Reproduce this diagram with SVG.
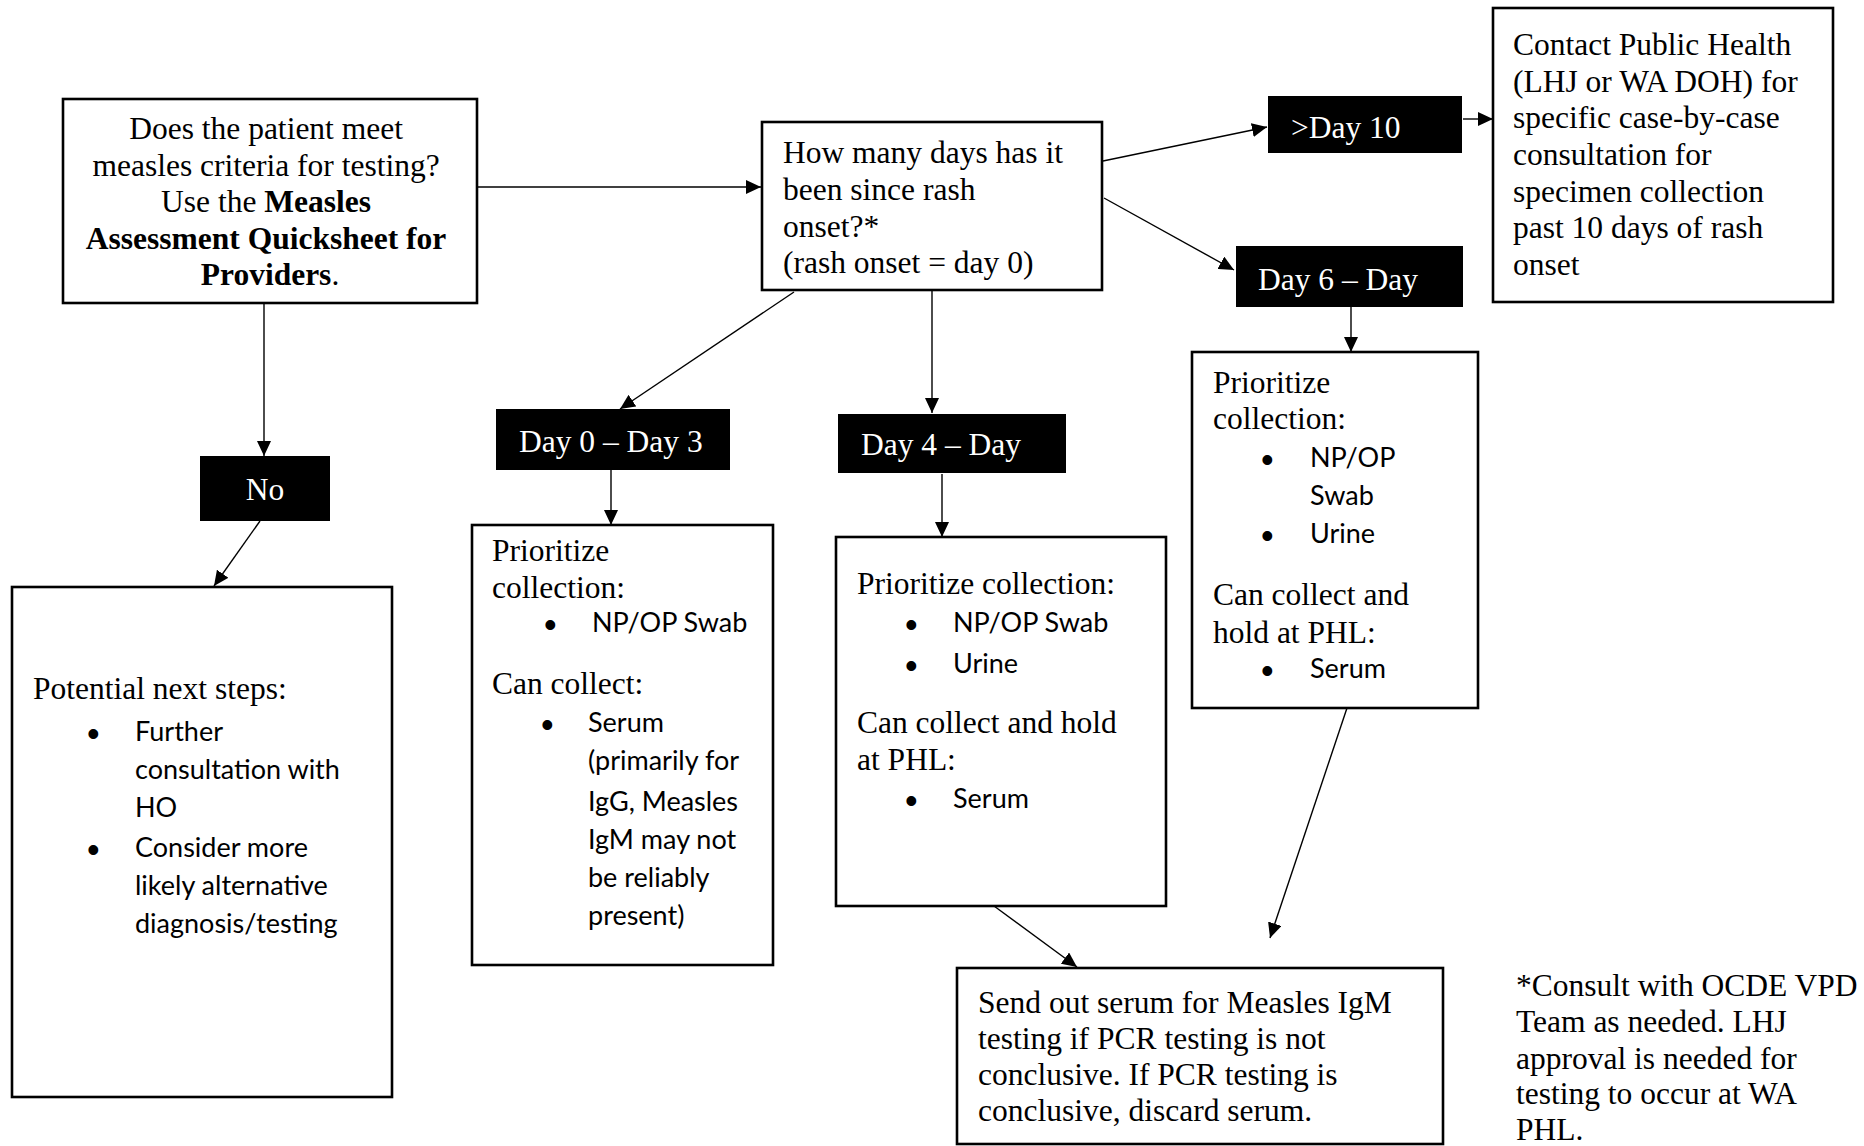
<svg xmlns="http://www.w3.org/2000/svg" width="1864" height="1146" viewBox="0 0 1864 1146">
<defs>
<marker id="arr" markerUnits="userSpaceOnUse" markerWidth="16" markerHeight="14" refX="15" refY="7" orient="auto">
<path d="M0,0 L15,7 L0,14 z" fill="#000"/>
</marker>
<style>
.box{fill:#fff;stroke:#000;stroke-width:2.6}
.lab{fill:#000;stroke:none}
.t{font-family:"Liberation Serif","Times New Roman",serif;font-size:31.5px;fill:#000}
.w{font-family:"Liberation Serif","Times New Roman",serif;font-size:31.5px;fill:#fff}
.s{font-family:Lato,"Open Sans",sans-serif;font-size:27px;fill:#000}
.b{font-family:"Liberation Sans",Arial,sans-serif;font-size:36px;fill:#000}
.c{stroke:#000;stroke-width:1.4;fill:none;marker-end:url(#arr)}
</style>
</defs>
<rect width="1864" height="1146" fill="#fff"/>

<g id="connectors">
<line class="c" x1="477" y1="187" x2="761" y2="187"/>
<line class="c" x1="264" y1="303" x2="264" y2="456"/>
<line class="c" x1="260" y1="521" x2="214" y2="586"/>
<line class="c" x1="1103" y1="161" x2="1267" y2="127"/>
<line class="c" x1="1463" y1="119" x2="1493" y2="119"/>
<line class="c" x1="1104" y1="198" x2="1234" y2="270"/>
<line class="c" x1="794" y1="292" x2="620" y2="409"/>
<line class="c" x1="932" y1="290" x2="932" y2="413"/>
<line class="c" x1="611" y1="470" x2="611" y2="525"/>
<line class="c" x1="942" y1="474" x2="942" y2="537"/>
<line class="c" x1="1351" y1="307" x2="1351" y2="352"/>
<line class="c" x1="994" y1="906" x2="1077" y2="967"/>
<line class="c" x1="1347" y1="708" x2="1270" y2="938"/>
</g>

<g id="start">
<rect class="box" x="63" y="99" width="414" height="204"/>
<text class="t" text-anchor="middle">
<tspan x="270" y="139">Does the patient meet</tspan>
<tspan x="270" y="176">measles criteria for testing?</tspan>
<tspan x="270" y="212">Use the <tspan font-weight="bold">Measles</tspan></tspan>
<tspan x="270" y="249" font-weight="bold">Assessment Quicksheet for</tspan>
<tspan x="270" y="285"><tspan font-weight="bold">Providers</tspan>.</tspan>
</text>
</g>

<g id="days-question">
<rect class="box" x="762" y="122" width="340" height="168"/>
<text class="t">
<tspan x="783" y="163">How many days has it</tspan>
<tspan x="783" y="200">been since rash</tspan>
<tspan x="783" y="237">onset?*</tspan>
<tspan x="783" y="273">(rash onset = day 0)</tspan>
</text>
</g>

<g id="day10">
<rect class="lab" x="1268" y="96" width="194" height="57"/>
<text class="w" x="1291" y="138">&gt;Day 10</text>
</g>

<g id="contact">
<rect class="box" x="1493" y="8" width="340" height="294"/>
<text class="t">
<tspan x="1513" y="55">Contact Public Health</tspan>
<tspan x="1513" y="92">(LHJ or WA DOH) for</tspan>
<tspan x="1513" y="128">specific case-by-case</tspan>
<tspan x="1513" y="165">consultation for</tspan>
<tspan x="1513" y="202">specimen collection</tspan>
<tspan x="1513" y="238">past 10 days of rash</tspan>
<tspan x="1513" y="275">onset</tspan>
</text>
</g>

<g id="day6">
<rect class="lab" x="1236" y="246" width="227" height="61"/>
<text class="w" x="1258" y="290">Day 6 – Day</text>
</g>

<g id="no">
<rect class="lab" x="200" y="456" width="130" height="65"/>
<text class="w" x="265" y="500" text-anchor="middle">No</text>
</g>

<g id="next-steps">
<rect class="box" x="12" y="587" width="380" height="510"/>
<text class="t" x="33" y="699">Potential next steps:</text>
<text class="b" x="87" y="746">•</text>
<text class="s">
<tspan x="135" y="741">Further</tspan>
<tspan x="135" y="779">consultation with</tspan>
<tspan x="135" y="817">HO</tspan>
</text>
<text class="b" x="87" y="862">•</text>
<text class="s">
<tspan x="135" y="857">Consider more</tspan>
<tspan x="135" y="895">likely alternative</tspan>
<tspan x="135" y="933">diagnosis/testing</tspan>
</text>
</g>

<g id="day0">
<rect class="lab" x="496" y="409" width="234" height="61"/>
<text class="w" x="519" y="452">Day 0 – Day 3</text>
</g>

<g id="day0-box">
<rect class="box" x="472" y="525" width="301" height="440"/>
<text class="t">
<tspan x="492" y="561">Prioritize</tspan>
<tspan x="492" y="598">collection:</tspan>
</text>
<text class="b" x="544" y="637">•</text>
<text class="s" x="592" y="632">NP/OP Swab</text>
<text class="t" x="492" y="694">Can collect:</text>
<text class="b" x="541" y="737">•</text>
<text class="s">
<tspan x="588" y="732">Serum</tspan>
<tspan x="588" y="770">(primarily for</tspan>
<tspan x="588" y="811">IgG, Measles</tspan>
<tspan x="588" y="849">IgM may not</tspan>
<tspan x="588" y="887">be reliably</tspan>
<tspan x="588" y="925">present)</tspan>
</text>
</g>

<g id="day4">
<rect class="lab" x="838" y="414" width="228" height="59"/>
<text class="w" x="861" y="455">Day 4 – Day</text>
</g>

<g id="day4-box">
<rect class="box" x="836" y="537" width="330" height="369"/>
<text class="t" x="857" y="594">Prioritize collection:</text>
<text class="b" x="905" y="637">•</text>
<text class="s" x="953" y="632">NP/OP Swab</text>
<text class="b" x="905" y="678">•</text>
<text class="s" x="953" y="673">Urine</text>
<text class="t">
<tspan x="857" y="733">Can collect and hold</tspan>
<tspan x="857" y="770">at PHL:</tspan>
</text>
<text class="b" x="905" y="813">•</text>
<text class="s" x="953" y="808">Serum</text>
</g>

<g id="day6-box">
<rect class="box" x="1192" y="352" width="286" height="356"/>
<text class="t">
<tspan x="1213" y="393">Prioritize</tspan>
<tspan x="1213" y="429">collection:</tspan>
</text>
<text class="b" x="1261" y="472">•</text>
<text class="s">
<tspan x="1310" y="467">NP/OP</tspan>
<tspan x="1310" y="505">Swab</tspan>
</text>
<text class="b" x="1261" y="548">•</text>
<text class="s" x="1310" y="543">Urine</text>
<text class="t">
<tspan x="1213" y="605">Can collect and</tspan>
<tspan x="1213" y="643">hold at PHL:</tspan>
</text>
<text class="b" x="1261" y="683">•</text>
<text class="s" x="1310" y="678">Serum</text>
</g>

<g id="send-out">
<rect class="box" x="957" y="968" width="486" height="176"/>
<text class="t">
<tspan x="978" y="1013">Send out serum for Measles IgM</tspan>
<tspan x="978" y="1049">testing if PCR testing is not</tspan>
<tspan x="978" y="1085">conclusive. If PCR testing is</tspan>
<tspan x="978" y="1121">conclusive, discard serum.</tspan>
</text>
</g>

<g id="footnote">
<text class="t">
<tspan x="1516" y="996">*Consult with OCDE VPD</tspan>
<tspan x="1516" y="1032">Team as needed. LHJ</tspan>
<tspan x="1516" y="1069">approval is needed for</tspan>
<tspan x="1516" y="1104">testing to occur at WA</tspan>
<tspan x="1516" y="1140">PHL.</tspan>
</text>
</g>
</svg>
